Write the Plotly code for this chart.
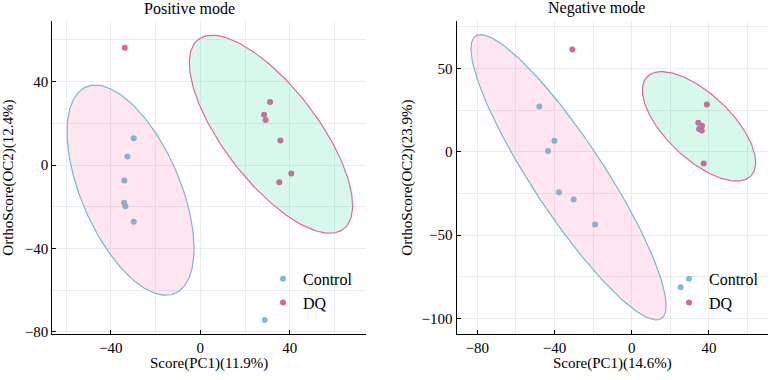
import numpy as np
import plotly.graph_objects as go

# ---------------- data ----------------
pos_control_x = [-29.8, -32.6, -34.0, -34.1, -33.5, -29.8, 28.8]
pos_control_y = [12.8, 4.1, -7.4, -18.1, -19.7, -27.2, -74.3]
pos_dq_x = [-33.8, 31.2, 28.5, 29.2, 35.8, 40.7, 35.3]
pos_dq_y = [56.2, 30.2, 24.1, 21.6, 11.7, -4.1, -8.3]

neg_control_x = [-47.9, -40.1, -43.4, -37.7, -30.1, -19.0, 25.3]
neg_control_y = [27.2, 6.7, 0.6, -24.2, -28.6, -43.5, -81.3]
neg_dq_x = [-30.8, 38.9, 34.5, 36.4, 34.9, 36.3, 37.3]
neg_dq_y = [61.4, 28.5, 17.5, 15.7, 13.8, 12.8, -6.9]

# confidence ellipses: centre x, centre y, half-width x, half-height y, correlation
pos_control_ellipse = [-31.2, -12.05, 28.4, 50.35, -0.555]
pos_dq_ellipse = [31.6, 14.75, 36.5, 47.45, -0.72]
neg_control_ellipse = [-32.75, -15.2, 50.55, 85.6, -0.90]
neg_dq_ellipse = [34.85, 15.35, 29.35, 32.85, -0.66]

group_names = ["Control", "DQ"]
panel_titles = ["Positive mode", "Negative mode"]
x_titles = ["Score(PC1)(11.9%)", "Score(PC1)(14.6%)"]
y_titles = ["OrthoScore(OC2)(12.4%)", "OrthoScore(OC2)(23.9%)"]

# ---------------- style ----------------
W, H = 770, 380
FONT = "Liberation Serif"
C_CONTROL = "#7cbfd4"
C_DQ = "#df629b"
FILL_CONTROL = "rgba(245,90,155,0.15)"
FILL_DQ = "rgba(0,205,130,0.15)"
LINE_CONTROL = "#7ab6cc"
LINE_DQ = "#e0679a"
GRID = "#e8eef0"


def px(xp):
    return xp / W


def py(yp):
    return (H - yp) / H


def ellipse(params, n=200):
    cx, cy, a, b, rho = params
    t = np.linspace(0, 2 * np.pi, n)
    x = cx + a * np.cos(t)
    y = cy + b * (rho * np.cos(t) + np.sqrt(1 - rho ** 2) * np.sin(t))
    return x, y


fig = go.Figure()

panels = [
    dict(xa="x", ya="y", legend="legend",
         cx=pos_control_x, cy=pos_control_y, dx=pos_dq_x, dy=pos_dq_y,
         ec=pos_control_ellipse, ed=pos_dq_ellipse),
    dict(xa="x2", ya="y2", legend="legend2",
         cx=neg_control_x, cy=neg_control_y, dx=neg_dq_x, dy=neg_dq_y,
         ec=neg_control_ellipse, ed=neg_dq_ellipse),
]

for p in panels:
    fig.add_trace(go.Scatter(x=p["cx"], y=p["cy"], mode="markers", name=group_names[0],
                             marker=dict(color=C_CONTROL, size=6, line=dict(width=0)),
                             xaxis=p["xa"], yaxis=p["ya"], legend=p["legend"]))
    fig.add_trace(go.Scatter(x=p["dx"], y=p["dy"], mode="markers", name=group_names[1],
                             marker=dict(color=C_DQ, size=6, line=dict(width=0)),
                             xaxis=p["xa"], yaxis=p["ya"], legend=p["legend"]))
    ex, ey = ellipse(p["ec"])
    fig.add_trace(go.Scatter(x=ex, y=ey, mode="lines", fill="toself", fillcolor=FILL_CONTROL,
                             line=dict(color=LINE_CONTROL, width=1.2), showlegend=False,
                             hoverinfo="skip", xaxis=p["xa"], yaxis=p["ya"]))
    ex, ey = ellipse(p["ed"])
    fig.add_trace(go.Scatter(x=ex, y=ey, mode="lines", fill="toself", fillcolor=FILL_DQ,
                             line=dict(color=LINE_DQ, width=1.2), showlegend=False,
                             hoverinfo="skip", xaxis=p["xa"], yaxis=p["ya"]))

axis_common = dict(
    showline=True, linecolor="black", linewidth=1.3, mirror=False,
    ticks="inside", ticklen=4, tickwidth=1, tickcolor="black",
    showgrid=True, gridcolor=GRID, gridwidth=1, zeroline=False,
    tickfont=dict(family=FONT, size=15, color="black"),
)

fig.update_layout(
    width=W, height=H, autosize=False,
    margin=dict(l=0, r=0, t=0, b=0),
    paper_bgcolor="white", plot_bgcolor="white",
    font=dict(family=FONT, size=15, color="black"),
    xaxis=dict(domain=[px(52.3), px(366)], range=[-66.2, 74.1], tick0=0, dtick=40,
               minor=dict(dtick=20, showgrid=True, gridcolor=GRID, ticks=""),
               anchor="y", **axis_common),
    yaxis=dict(domain=[py(339.2), py(21.8)], range=[-80.9, 68.8], tick0=0, dtick=40,
               minor=dict(dtick=20, showgrid=True, gridcolor=GRID, ticks=""),
               anchor="x", **axis_common),
    xaxis2=dict(domain=[px(456.7), px(768)], range=[-90.7, 70.6], tick0=0, dtick=40,
                minor=dict(dtick=20, showgrid=True, gridcolor=GRID, ticks=""),
                anchor="y2", **axis_common),
    yaxis2=dict(domain=[py(339.2), py(21.8)], range=[-109.2, 78.3], tick0=0, dtick=50,
                minor=dict(dtick=25, showgrid=True, gridcolor=GRID, ticks=""),
                anchor="x2", **axis_common),
    legend=dict(x=px(263), y=py(266), xanchor="left", yanchor="top",
                bgcolor="rgba(0,0,0,0)", font=dict(family=FONT, size=16)),
    legend2=dict(x=px(669), y=py(266), xanchor="left", yanchor="top",
                 bgcolor="rgba(0,0,0,0)", font=dict(family=FONT, size=16)),
)

ann = []
# panel titles
ann.append(dict(text=panel_titles[0], x=px(189), y=py(8.5), font_size=16))
ann.append(dict(text=panel_titles[1], x=px(596), y=py(8.5), font_size=16))
# x-axis titles
ann.append(dict(text=x_titles[0], x=px(208.5), y=py(369.5)))
ann.append(dict(text=x_titles[1], x=px(612.5), y=py(369.5)))
# y-axis titles
ann.append(dict(text=y_titles[0], x=px(8.5), y=py(181), textangle=-90))
ann.append(dict(text=y_titles[1], x=px(407.5), y=py(181), textangle=-90))
for a in ann:
    size = a.pop("font_size", 15)
    a.update(xref="paper", yref="paper", xanchor="center", yanchor="middle",
             showarrow=False, font=dict(family=FONT, size=size, color="black"))
fig.update_layout(annotations=ann)

fig.write_html("out.html", config={"displayModeBar": False},
               post_script="document.body.style.margin='0';document.body.style.padding='0';")
